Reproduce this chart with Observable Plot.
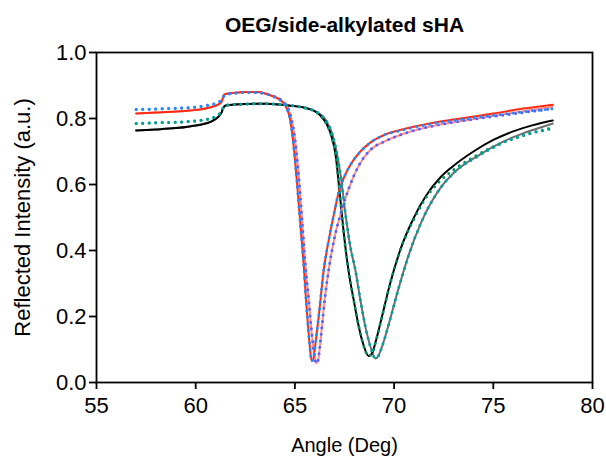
<!DOCTYPE html>
<html><head><meta charset="utf-8">
<script src="https://cdn.jsdelivr.net/npm/d3@7"></script>
<script src="https://cdn.jsdelivr.net/npm/@observablehq/plot@0.6"></script>
<style>body{margin:0;background:#fff}</style>
</head><body><div id="chart"></div>
<script>
const titleText = "OEG/side-alkylated sHA";
const xLabel = "Angle (Deg)";
const yLabel = "Reflected Intensity (a.u.)";
const xTicks = [55, 60, 65, 70, 75, 80];
const yTicks = [0, 0.2, 0.4, 0.6, 0.8, 1.0];

// Fit 1 (red solid)
const redX = [57,58,59,59.7,60.3,60.75,61.1,61.3,61.4,61.5,62,62.5,63,63.5,63.9,64.27,64.5,64.78,64.93,65.1,65.3,65.45,65.55,65.65,65.75,65.84,65.92,66.0,66.1,66.2,66.45,66.7,67.0,67.2,67.5,67.8,68.3,68.8,69.5,70.3,72,73.35,75,76.5,78];
const redY = [0.815,0.818,0.821,0.824,0.828,0.834,0.841,0.850,0.868,0.874,0.878,0.880,0.880,0.876,0.867,0.855,0.840,0.790,0.720,0.610,0.460,0.350,0.260,0.180,0.110,0.065,0.070,0.100,0.150,0.200,0.340,0.430,0.520,0.575,0.625,0.660,0.700,0.727,0.750,0.765,0.787,0.800,0.815,0.830,0.842];

// Fit 2 (pink solid)
const pinkX = [57,58,59,59.7,60.3,60.75,61.1,61.3,61.4,61.5,62,62.5,63,63.5,63.9,64.27,64.5,64.78,65.0,65.2,65.4,65.55,65.7,65.8,65.9,66.0,66.08,66.16,66.26,66.38,66.5,66.7,67.0,67.3,67.7,68.2,68.77,69.5,70.3,72,73.35,75,76.5,78];
const pinkY = [0.815,0.818,0.821,0.824,0.828,0.834,0.841,0.850,0.868,0.874,0.878,0.880,0.880,0.876,0.868,0.858,0.845,0.810,0.740,0.620,0.460,0.340,0.250,0.180,0.120,0.075,0.058,0.065,0.110,0.180,0.250,0.340,0.440,0.510,0.585,0.655,0.703,0.730,0.750,0.778,0.792,0.808,0.822,0.836];

// Data 1 (bright blue dots)
const blueX = [57,58,59,59.7,60.3,60.75,61.1,61.3,61.4,61.5,62,62.5,63,63.5,63.9,64.27,64.5,64.78,64.93,65.1,65.3,65.45,65.55,65.65,65.75,65.84,65.92,66.0,66.1,66.2,66.45,66.7,67.0,67.2,67.5,67.8,68.3,68.8,69.5,70.3,72,73.35,75,76.5,78];
const blueY = [0.827,0.829,0.831,0.833,0.837,0.842,0.848,0.856,0.866,0.872,0.877,0.879,0.879,0.875,0.867,0.855,0.840,0.790,0.720,0.610,0.460,0.350,0.260,0.180,0.110,0.065,0.070,0.100,0.150,0.200,0.340,0.430,0.520,0.575,0.625,0.660,0.700,0.727,0.750,0.763,0.785,0.797,0.810,0.820,0.830];

// Data 2 (violet-blue dots)
const violetX = [57,58,59,59.7,60.3,60.75,61.1,61.3,61.4,61.5,62,62.5,63,63.5,63.9,64.27,64.5,64.78,65.0,65.2,65.4,65.55,65.7,65.8,65.9,66.0,66.08,66.16,66.26,66.38,66.5,66.7,67.0,67.3,67.7,68.2,68.77,69.5,70.3,72,73.35,75,76.5,78];
const violetY = [0.827,0.829,0.831,0.833,0.837,0.842,0.848,0.856,0.866,0.872,0.877,0.879,0.879,0.875,0.868,0.858,0.845,0.810,0.740,0.620,0.460,0.340,0.250,0.180,0.120,0.075,0.058,0.065,0.110,0.180,0.250,0.340,0.440,0.510,0.585,0.655,0.703,0.730,0.750,0.778,0.792,0.806,0.818,0.830];

// Fit 3 (black solid)
const blackX = [57,58,59,59.7,60.3,60.75,61.1,61.3,61.4,61.55,62.5,63.5,64.5,65.2,65.6,66.0,66.3,66.6,66.85,67.05,67.25,67.45,67.7,67.97,68.2,68.45,68.72,68.9,69.1,69.35,69.8,70.3,71,71.6,72.34,73,74,75,76,77,78];
const blackY = [0.764,0.767,0.771,0.776,0.782,0.790,0.803,0.818,0.834,0.840,0.844,0.845,0.841,0.836,0.831,0.822,0.808,0.783,0.745,0.690,0.580,0.460,0.340,0.248,0.175,0.115,0.080,0.090,0.130,0.190,0.300,0.400,0.500,0.565,0.622,0.657,0.700,0.735,0.761,0.780,0.794];

// Fit 4 (gray solid)
const grayX = [57,58,59,59.7,60.3,60.75,61.1,61.3,61.4,61.55,62.5,63.5,64.5,65.2,65.6,66.0,66.3,66.6,66.9,67.1,67.3,67.55,67.8,68.05,68.3,68.55,68.8,69.06,69.2,69.4,69.7,70.2,70.7,71.4,72.34,73,74.3,75.5,76.5,77.3,78];
const grayY = [0.764,0.767,0.771,0.776,0.782,0.790,0.803,0.818,0.834,0.840,0.844,0.845,0.841,0.836,0.831,0.823,0.812,0.792,0.750,0.700,0.630,0.510,0.410,0.340,0.250,0.170,0.110,0.073,0.080,0.110,0.170,0.280,0.380,0.490,0.590,0.635,0.690,0.730,0.755,0.771,0.785];

// Data 3 (green dots)
const greenX = [57,58,59,59.7,60.3,60.75,61.1,61.3,61.4,61.55,62.5,63.5,64.5,65.2,65.6,66.0,66.3,66.6,66.85,67.05,67.25,67.45,67.7,67.97,68.2,68.45,68.72,68.9,69.1,69.35,69.8,70.3,71,71.6,72.34,73,74,75,76.5,78];
const greenY = [0.785,0.787,0.789,0.791,0.795,0.800,0.810,0.822,0.834,0.840,0.844,0.845,0.841,0.836,0.831,0.822,0.808,0.783,0.745,0.690,0.580,0.460,0.340,0.248,0.175,0.115,0.080,0.090,0.130,0.190,0.300,0.400,0.495,0.560,0.612,0.645,0.683,0.715,0.748,0.770];

// Data 4 (teal dots)
const tealX = [57,58,59,59.7,60.3,60.75,61.1,61.3,61.4,61.55,62.5,63.5,64.5,65.2,65.6,66.0,66.3,66.6,66.9,67.1,67.3,67.55,67.8,68.05,68.3,68.55,68.8,69.06,69.2,69.4,69.7,70.2,70.7,71.4,72.34,73,74.3,75.5,76.5,78];
const tealY = [0.785,0.787,0.789,0.791,0.795,0.800,0.810,0.822,0.834,0.840,0.844,0.845,0.841,0.836,0.831,0.823,0.812,0.792,0.750,0.700,0.630,0.510,0.410,0.340,0.250,0.170,0.110,0.073,0.080,0.110,0.170,0.280,0.380,0.490,0.590,0.635,0.688,0.727,0.750,0.772];

const rows = (xs, ys) => xs.map((x, i) => ({x, y: ys[i]}));
const solid = (xs, ys, color) => Plot.line(rows(xs, ys), {x: "x", y: "y", stroke: color, strokeWidth: 2, curve: "monotone-x"});
const dotted = (xs, ys, color) => Plot.line(rows(xs, ys), {x: "x", y: "y", stroke: color, strokeWidth: 3, strokeDasharray: "0 6.5", strokeLinecap: "round", curve: "monotone-x"});

const font = "'Liberation Sans', Arial, sans-serif";
const chart = Plot.plot({
  width: 606, height: 457,
  marginLeft: 96, marginRight: 14, marginTop: 52, marginBottom: 75,
  style: {fontFamily: font, background: "white", color: "black", overflow: "visible"},
  x: {domain: [55, 80]},
  y: {domain: [0, 1]},
  marks: [
    solid(grayX, grayY, "#6e6e6e"),
    solid(blackX, blackY, "#000000"),
    solid(pinkX, pinkY, "#ff8c8c"),
    solid(redX, redY, "#ff2a10"),
    dotted(greenX, greenY, "#008f5f"),
    dotted(tealX, tealY, "#00a0a0"),
    dotted(violetX, violetY, "#5560ff"),
    dotted(blueX, blueY, "#1e8cff"),
    Plot.frame({stroke: "black", strokeWidth: 1.8}),
    Plot.axisX({ticks: xTicks, tickSize: 7, tickPadding: 8, fontSize: 22, strokeWidth: 1.8, label: null, tickFormat: d3.format("d")}),
    Plot.axisY({ticks: yTicks, tickSize: 7, tickPadding: 3, fontSize: 22, strokeWidth: 1.8, label: null, tickFormat: d3.format(".1f")}),
    Plot.text([titleText], {frameAnchor: "top", dy: -27, lineAnchor: "middle", textAnchor: "middle", fontSize: 21, fontWeight: "bold", fill: "black"}),
    Plot.text([xLabel], {frameAnchor: "bottom", dy: 63, lineAnchor: "middle", textAnchor: "middle", fontSize: 20, fill: "black"}),
    Plot.text([yLabel], {frameAnchor: "left", dx: -74, rotate: -90, lineAnchor: "middle", textAnchor: "middle", fontSize: 22, fill: "black"})
  ]
});
document.getElementById("chart").appendChild(chart);
</script>
</body></html>
